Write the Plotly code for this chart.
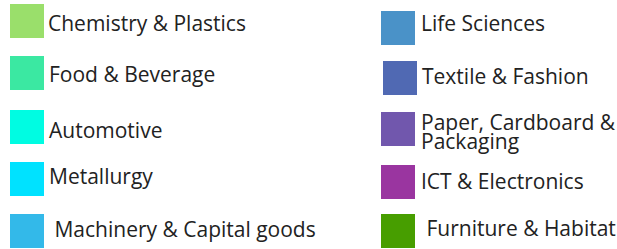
import plotly.graph_objects as go

# Data: legend categories and their colours
left_labels = ["Chemistry & Plastics", "Food & Beverage", "Automotive", "Metallurgy",
               " Machinery & Capital goods"]
left_colors = ["#9ADF6B", "#3BE8A2", "#00FCE2", "#00E2FF", "#33B9E9"]
right_labels = ["Life Sciences", "Textile & Fashion", "Paper, Cardboard &<br>Packaging",
                "ICT & Electronics", " Furniture & Habitat"]
right_colors = ["#4A92C8", "#5069B3", "#7157AD", "#9A35A0", "#479E00"]

# Layout (pixel positions)
W, H = 617, 249
left_sq_x = [27, 27, 27, 27, 27]
left_sq_y = [21, 73, 127, 179, 231]
left_tx_x = [46, 47, 47, 47, 47]
left_tx_y = [22.5, 74, 130, 175.5, 228.5]
right_sq_x = [398, 400, 398, 398, 398]
right_sq_y = [28, 78, 129, 182, 231]
right_tx_x = [419, 420, 419, 419, 419]
right_tx_y = [23, 76, 131.5, 180.5, 228]
LINE_H = 19

FONT = "Open Sans"
FS = 21
TXT = "#222222"

fig = go.Figure()
fig.add_trace(go.Scatter(
    x=left_sq_x + right_sq_x, y=left_sq_y + right_sq_y, mode="markers",
    marker=dict(symbol="square", size=34, color=left_colors + right_colors,
                line=dict(width=0)),
    hoverinfo="skip", showlegend=False))

for lbls, xs, ys in [(left_labels, left_tx_x, left_tx_y), (right_labels, right_tx_x, right_tx_y)]:
    for lbl, x, y in zip(lbls, xs, ys):
        lines = lbl.split("<br>")
        n = len(lines)
        for i, ln in enumerate(lines):
            txt = ("&nbsp;" + ln[1:]) if ln.startswith(" ") else ln
            yy = y + (i - (n - 1) / 2) * LINE_H
            fig.add_annotation(x=x, y=yy, xref="x", yref="y", text=txt,
                               showarrow=False, xanchor="left", yanchor="middle", align="left",
                               font=dict(family=FONT, size=FS, color=TXT))

fig.update_layout(
    width=W, height=H, margin=dict(l=0, r=0, t=0, b=0),
    paper_bgcolor="white", plot_bgcolor="white",
    xaxis=dict(range=[0, W], visible=False, fixedrange=True),
    yaxis=dict(range=[H, 0], visible=False, fixedrange=True),
)
fig.write_html("out.html", config={"displayModeBar": False},
               post_script="document.body.style.margin='0';document.body.style.overflow='hidden';")
